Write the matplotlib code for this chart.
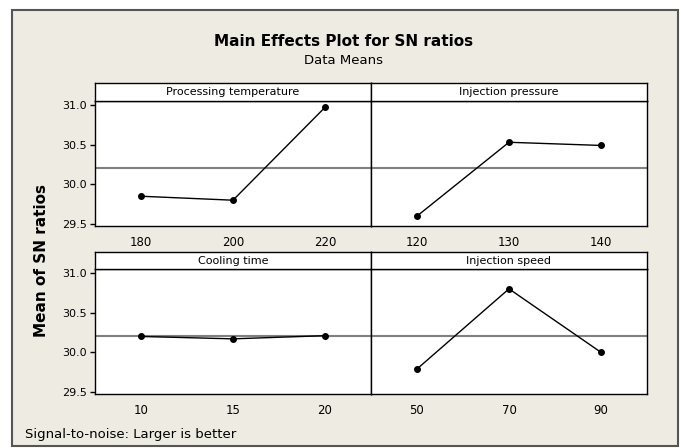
import matplotlib.pyplot as plt
from matplotlib.patches import Rectangle

# main effects data (SN ratio means per level)
factors = ["Processing temperature", "Injection pressure", "Cooling time", "Injection speed"]
levels = [["180", "200", "220"], ["120", "130", "140"], ["10", "15", "20"], ["50", "70", "90"]]
sn_means = [[29.85, 29.80, 30.97],
            [29.60, 30.53, 30.49],
            [30.20, 30.17, 30.21],
            [29.79, 30.80, 30.00]]
grand_mean = 30.20
yticks = [29.5, 30.0, 30.5, 31.0]

W, H = 681, 448
bg = '#EEEBE2'

fig = plt.figure(figsize=(W / 100, H / 100), dpi=100)
fig.patch.set_facecolor('white')
fig.patches.append(Rectangle((12 / W, 2 / H), 666 / W, 436 / H, transform=fig.transFigure,
                             facecolor=bg, edgecolor='#555555', lw=1.5, zorder=-10))


def box(x0, y0, x1, y1):
    # pixel box (top-left origin) -> figure fraction rect
    return [x0 / W, 1 - y1 / H, (x1 - x0) / W, (y1 - y0) / H]


panels = [(95, 371, 101, 226), (371, 647, 101, 226), (95, 371, 269, 394), (371, 647, 269, 394)]
strips = [(83, 101), (83, 101), (252, 269), (252, 269)]

for i, (x0, x1, y0, y1) in enumerate(panels):
    ax = fig.add_axes(box(x0, y0, x1, y1))
    ax.set_facecolor('white')
    xs = range(len(levels[i]))
    ax.axhline(grand_mean, color='#808080', lw=1.5, zorder=1)
    ax.plot(xs, sn_means[i], color='black', lw=1, marker='o', ms=4, zorder=3)
    ax.set_xlim(-0.5, 2.5)
    ax.set_ylim(29.475, 31.05)
    ax.set_xticks(list(xs))
    ax.set_xticklabels(levels[i])
    ax.tick_params(axis='x', length=0, pad=7, labelsize=8.5)
    if i % 2 == 0:
        ax.set_yticks(yticks)
        ax.set_yticklabels([f"{v:.1f}" for v in yticks])
        ax.tick_params(axis='y', length=3.5, width=1, pad=2.5, labelsize=8)
    else:
        ax.set_yticks([])
    for s in ax.spines.values():
        s.set_color('black')
        s.set_linewidth(1)

    sy0, sy1 = strips[i]
    sax = fig.add_axes(box(x0, sy0, x1, sy1))
    sax.set_facecolor('white')
    sax.set_xticks([])
    sax.set_yticks([])
    for s in sax.spines.values():
        s.set_color('black')
        s.set_linewidth(1)
    sax.text(0.5, 0.5, factors[i], ha='center', va='center', fontsize=8, transform=sax.transAxes)

fig.text(344 / W, 1 - 41 / H, "Main Effects Plot for SN ratios", ha='center', va='center',
         fontsize=11, fontweight='bold')
fig.text(344 / W, 1 - 60 / H, "Data Means", ha='center', va='center', fontsize=9.5)
fig.text(42 / W, 1 - 260 / H, "Mean of SN ratios", ha='center', va='center', rotation=90,
         fontsize=11, fontweight='bold')
fig.text(25 / W, 1 - 434 / H, "Signal-to-noise: Larger is better", ha='left', va='center', fontsize=9.5)

fig.savefig('out.png', dpi=100, facecolor=fig.get_facecolor())
